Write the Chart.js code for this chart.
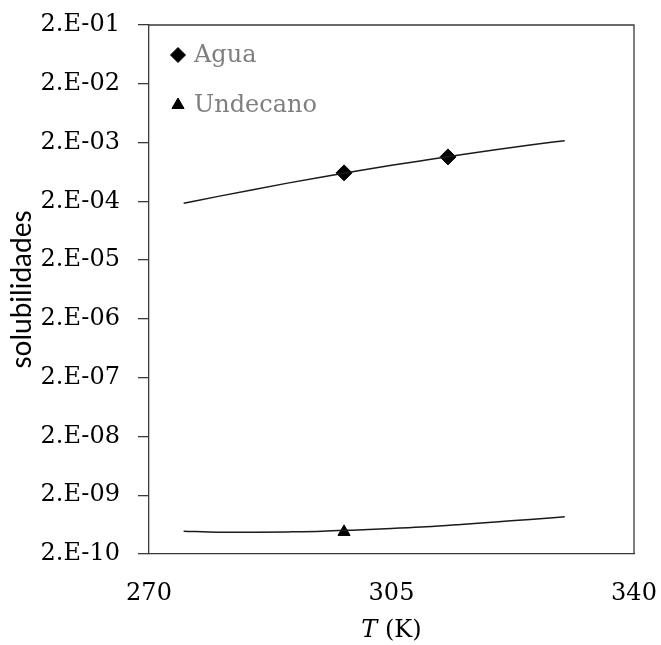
<!DOCTYPE html>
<html>
<head>
<meta charset="utf-8">
<script src="https://cdn.jsdelivr.net/npm/chart.js@4.4.1/dist/chart.umd.min.js"></script>
<style>
  html, body { margin: 0; padding: 0; background: #ffffff; }
  canvas { display: block; }
</style>
</head>
<body>
<canvas id="c" width="661" height="645"></canvas>
<script>
// ---- data ----
const curveT = [275, 280, 285, 290, 295, 300, 305, 310, 315, 320, 325, 330];
const aguaCurve = [1.86e-4, 2.43e-4, 3.16e-4, 4.08e-4, 5.20e-4, 6.55e-4, 8.19e-4, 1.01e-3, 1.24e-3, 1.51e-3, 1.82e-3, 2.15e-3];
const undecanoCurve = [4.90e-10, 4.70e-10, 4.70e-10, 4.75e-10, 4.86e-10, 5.14e-10, 5.45e-10, 5.81e-10, 6.36e-10, 7.03e-10, 7.75e-10, 8.59e-10];
const aguaT = [298.15, 313.15];
const aguaPoints = [6.1e-4, 1.14e-3];
const undecanoT = [298.15];
const undecanoPoints = [4.75e-10];
const yTickValues = [2e-10, 2e-9, 2e-8, 2e-7, 2e-6, 2e-5, 2e-4, 2e-3, 2e-2, 2e-1];
const yTickLabels = ['2.E-10', '2.E-09', '2.E-08', '2.E-07', '2.E-06', '2.E-05', '2.E-04', '2.E-03', '2.E-02', '2.E-01'];
const xTickValues = [270, 305, 340];
const seriesNames = ['Agua', 'Undecano'];
const xTitleItalic = 'T';
const xTitleRest = ' (K)';
const yTitle = 'solubilidades';

const toXY = (xs, ys) => xs.map((x, i) => ({ x: x, y: ys[i] }));

const SERIF = '"DejaVu Serif", serif';
const AXIS_COLOR = '#3a3a3a';

const framePlugin = {
  id: 'frame',
  afterDatasetsDraw(chart) {
    const { ctx, chartArea: a } = chart;
    ctx.save();
    ctx.strokeStyle = AXIS_COLOR;
    ctx.lineWidth = 1.3;
    ctx.beginPath();
    ctx.moveTo(a.left, a.top);
    ctx.lineTo(a.right, a.top);
    ctx.lineTo(a.right, a.bottom);
    ctx.stroke();
    ctx.restore();
  }
};

const legendPlugin = {
  id: 'insideLegend',
  afterDraw(chart) {
    const { ctx, chartArea: a } = chart;
    const items = chart.data.datasets.filter(d => d.inLegend);
    ctx.save();
    items.forEach((d, i) => {
      const cx = a.left + 29;
      const cy = a.top + 30 + i * 50;
      ctx.fillStyle = '#000';
      ctx.strokeStyle = '#000';
      ctx.lineWidth = 1;
      Chart.helpers.drawPoint(ctx, { pointStyle: d.pointStyle, radius: d.legendRadius, borderWidth: 1 }, cx, cy);
      ctx.font = '24px ' + SERIF;
      ctx.fillStyle = '#7f7f7f';
      ctx.textAlign = 'left';
      ctx.textBaseline = 'middle';
      ctx.fillText(d.label, cx + 16, cy + 1);
    });
    ctx.restore();
  }
};

const xTitlePlugin = {
  id: 'xTitle',
  afterDraw(chart) {
    const { ctx, chartArea: a } = chart;
    ctx.save();
    ctx.fillStyle = '#000';
    ctx.textBaseline = 'middle';
    ctx.textAlign = 'left';
    const fItal = 'italic 24px ' + SERIF;
    const fNorm = '24px ' + SERIF;
    ctx.font = fItal;
    const w1 = ctx.measureText(xTitleItalic).width;
    ctx.font = fNorm;
    const w2 = ctx.measureText(xTitleRest).width;
    const cx = (a.left + a.right) / 2;
    const x0 = cx - (w1 + w2) / 2;
    const y = 631;
    ctx.font = fItal;
    ctx.fillText(xTitleItalic, x0, y);
    ctx.font = fNorm;
    ctx.fillText(xTitleRest, x0 + w1, y);
    ctx.restore();
  }
};

new Chart(document.getElementById('c'), {
  type: 'scatter',
  data: {
    datasets: [
      {
        label: seriesNames[0] + ' curve',
        data: toXY(curveT, aguaCurve),
        showLine: true,
        borderColor: '#1a1a1a',
        borderWidth: 1.5,
        pointRadius: 0,
        tension: 0.4,
        cubicInterpolationMode: 'monotone'
      },
      {
        label: seriesNames[1] + ' curve',
        data: toXY(curveT, undecanoCurve),
        showLine: true,
        borderColor: '#1a1a1a',
        borderWidth: 1.5,
        pointRadius: 0,
        tension: 0.4,
        cubicInterpolationMode: 'monotone'
      },
      {
        label: seriesNames[0],
        inLegend: true,
        legendRadius: 7.5,
        data: toXY(aguaT, aguaPoints),
        pointStyle: 'rectRot',
        pointRadius: 8,
        pointBackgroundColor: '#000',
        pointBorderColor: '#000',
        pointBorderWidth: 1,
        showLine: false
      },
      {
        label: seriesNames[1],
        inLegend: true,
        legendRadius: 7,
        data: toXY(undecanoT, undecanoPoints),
        pointStyle: 'triangle',
        pointRadius: 7,
        pointBackgroundColor: '#000',
        pointBorderColor: '#000',
        pointBorderWidth: 1,
        showLine: false
      }
    ]
  },
  options: {
    responsive: false,
    animation: false,
    devicePixelRatio: 1,
    layout: { padding: { top: 25, right: 27, left: 0, bottom: 0 } },
    plugins: {
      legend: { display: false },
      tooltip: { enabled: false }
    },
    scales: {
      x: {
        type: 'linear',
        min: 270,
        max: 340,
        afterBuildTicks: s => { s.ticks = xTickValues.map(v => ({ value: v })); },
        afterFit: s => { s.height = 91; s.paddingLeft = 0; s.paddingRight = 0; },
        grid: { display: false, drawTicks: false },
        border: { display: true, color: AXIS_COLOR, width: 1.3 },
        ticks: {
          color: '#000',
          padding: 25,
          maxRotation: 0,
          font: { family: SERIF, size: 24 },
          callback: v => String(v)
        },
        title: { display: false }
      },
      y: {
        type: 'logarithmic',
        min: yTickValues[0],
        max: yTickValues[yTickValues.length - 1],
        afterBuildTicks: s => { s.ticks = yTickValues.map(v => ({ value: v })); },
        afterFit: s => { s.width = 149; s.paddingTop = 0; s.paddingBottom = 0; },
        grid: { display: true, drawOnChartArea: false, drawTicks: true, tickLength: 11, color: AXIS_COLOR, lineWidth: 1.3 },
        border: { display: true, color: AXIS_COLOR, width: 1.3 },
        ticks: {
          color: '#000',
          padding: 18,
          font: { family: SERIF, size: 24 },
          callback: (v, i) => yTickLabels[i]
        },
        title: {
          display: true,
          text: yTitle,
          color: '#000',
          font: { family: 'Lato, "Liberation Sans", sans-serif', size: 28, lineHeight: 1 },
          padding: { top: 8, bottom: 0 }
        }
      }
    }
  },
  plugins: [framePlugin, legendPlugin, xTitlePlugin]
});
</script>
</body>
</html>
